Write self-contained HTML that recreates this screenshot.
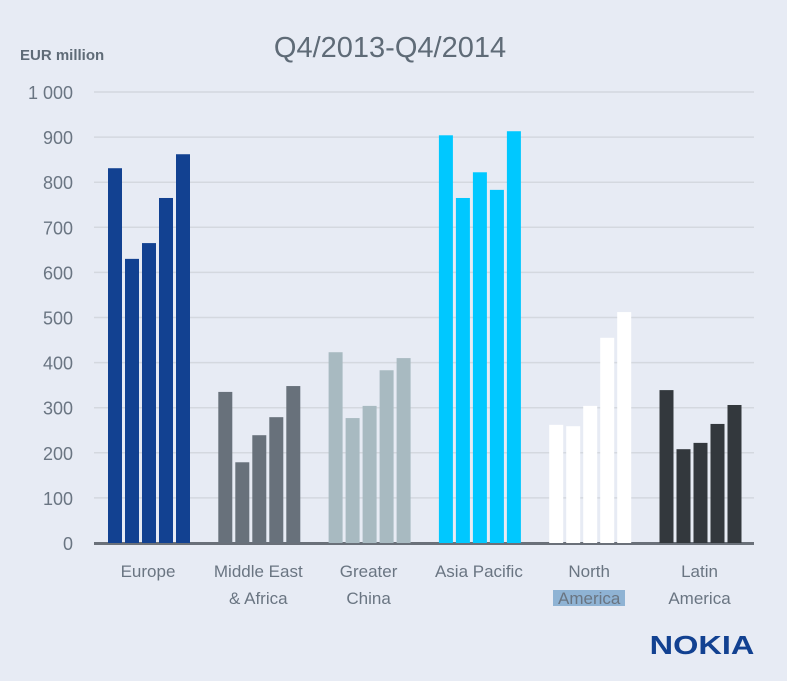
<!DOCTYPE html>
<html><head><meta charset="utf-8">
<style>
body{margin:0;width:787px;height:676px;background:#e7ebf4;overflow:hidden;font-family:"Liberation Sans",sans-serif;}
svg text{font-family:"Liberation Sans",sans-serif;}
</style></head>
<body>
<svg id="chart" width="787" height="676">
<rect width="787" height="676" fill="#e7ebf4"/>
<text x="390" y="57" text-anchor="middle" font-size="29" fill="#5f6b77">Q4/2013-Q4/2014</text>
<text x="20" y="60" font-size="15" font-weight="bold" fill="#5f6b77">EUR million</text>
<g id="grid"></g><g id="bars"></g><g id="labels"></g>
<rect x="553" y="590" width="72" height="16" fill="#8fb3d4"/>
<g id="cats"></g>
<text x="702" y="654" text-anchor="middle" font-size="26" font-weight="bold" fill="#124191" transform="translate(702,0) scale(1.25,1) translate(-702,0)">NOKIA</text>
</svg>
<script>
const categories=[["Europe"],["Middle East","& Africa"],["Greater","China"],["Asia Pacific"],["North","America"],["Latin","America"]];
const europe=[831,630,665,765,862];
const mea=[335,179,239,279,348];
const china=[423,277,304,383,410];
const asia=[904,765,822,783,913];
const northAm=[262,259,304,455,512];
const latin=[339,208,222,264,306];
const seriesByGroup=[europe,mea,china,asia,northAm,latin];
const colors=["#124191","#68717b","#a8bac1","#00c8ff","#ffffff","#33383d"];
const ticks=[0,100,200,300,400,500,600,700,800,900,1000];
const tickLabels=["0","100","200","300","400","500","600","700","800","900","1 000"];
const NS="http://www.w3.org/2000/svg";
const y0=543,yTop=92,maxV=1000;
function y(v){return y0-(v/maxV)*(y0-yTop);}
function gx(g){return 108+g*110.3;}
function mk(t,a,p){const e=document.createElementNS(NS,t);for(const k in a)e.setAttribute(k,a[k]);p.appendChild(e);return e;}
const grid=document.getElementById('grid'),bars=document.getElementById('bars'),lab=document.getElementById('labels'),cats=document.getElementById('cats');
ticks.forEach((t,i)=>{
  if(t>0){const l=mk('line',{x1:94,x2:754,y1:y(t),y2:y(t),stroke:'#d4d8df','stroke-width':1.5},grid);
  
  }
  const tx=mk('text',{x:73,y:y(t)+7,'text-anchor':'end','font-size':18,fill:'#6a7582'},lab);
  tx.textContent=tickLabels[i];
  
  
});
const ax=mk('line',{x1:94,x2:754,y1:y0+0.5,y2:y0+0.5,stroke:'#6a7079','stroke-width':3},grid);


seriesByGroup.forEach((vals,g)=>{
  vals.forEach((v,i)=>{
    const r=mk('rect',{x:gx(g)+i*17,y:y(v),width:14,height:y0-y(v),fill:colors[g]},bars);
    
    
  });
  categories[g].forEach((line,j)=>{
    const t=mk('text',{x:gx(g)+40,y:577+j*27,'text-anchor':'middle','font-size':17,fill:'#6a7582'},cats);
    t.textContent=line;
    
    
  });
});
</script>
</body></html>
